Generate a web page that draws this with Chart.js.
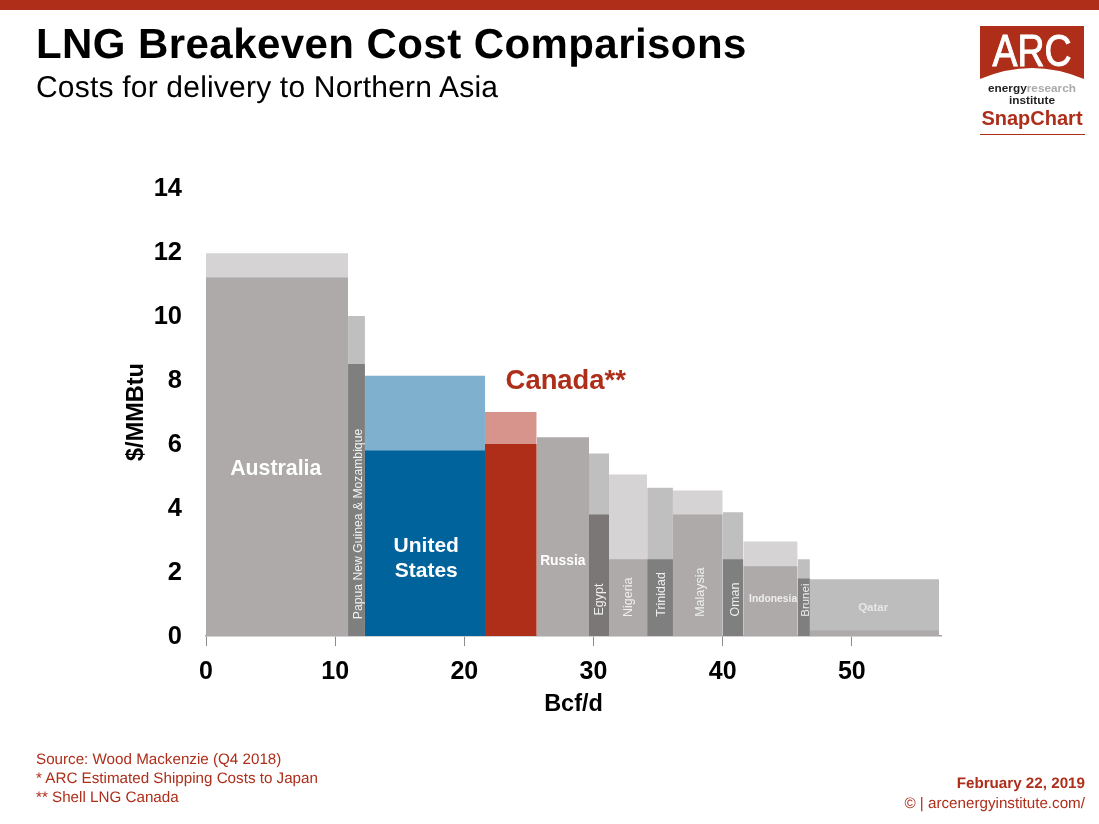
<!DOCTYPE html>
<html><head><meta charset="utf-8">
<script src="https://cdn.jsdelivr.net/npm/chart.js@4"></script>
<style>
html,body{margin:0;padding:0;background:#fff;font-family:"Liberation Sans",Arial,sans-serif}
#wrap{position:relative;width:1099px;height:824px;overflow:hidden}
#bar{position:absolute;left:0;top:0;width:1099px;height:10px;background:#ae2e1a}
canvas{position:absolute;left:0;top:0}
.t{position:absolute;white-space:nowrap;text-rendering:geometricPrecision}
#title{left:36px;top:19px;font-size:42px;letter-spacing:.43px;line-height:50px;font-weight:bold;color:#000}
#sub{left:36px;top:70px;font-size:30px;letter-spacing:.2px;line-height:36px;color:#000}
.foot{left:36px;font-size:15.2px;line-height:18px;color:#ae2e1a}
.right{right:14px;font-size:15.2px;line-height:18px;color:#ae2e1a;text-align:right}
</style></head><body>
<div id="wrap">
<canvas id="c" width="1099" height="824"></canvas>
<div id="bar"></div>
<div class="t" id="title">LNG Breakeven Cost Comparisons</div>
<div class="t" id="sub">Costs for delivery to Northern Asia</div>
<svg style="position:absolute;left:975px;top:20px" width="115" height="118" viewBox="0 0 115 118">
<path d="M5 6H109V59Q57 37 5 59Z" fill="#ae2e1a"/>
<text x="57" y="46" text-anchor="middle" font-family="Liberation Sans" font-size="44" fill="#fff" stroke="#fff" stroke-width="1" textLength="79" lengthAdjust="spacingAndGlyphs">ARC</text>
<text x="57" y="72" text-anchor="middle" font-family="Liberation Sans" font-size="11.8" font-weight="bold" fill="#222">energy<tspan fill="#aaa">research</tspan></text>
<text x="57" y="84" text-anchor="middle" font-family="Liberation Sans" font-size="11.8" font-weight="bold" fill="#222">institute</text>
<text x="57" y="105" text-anchor="middle" font-family="Liberation Sans" font-size="20" font-weight="bold" fill="#ae2e1a">SnapChart</text>
<rect x="5" y="114" width="105" height="1" fill="#ae2e1a"/>
</svg>
<div class="t foot" style="top:751px">Source: Wood Mackenzie (Q4 2018)</div>
<div class="t foot" style="top:770px">* ARC Estimated Shipping Costs to Japan</div>
<div class="t foot" style="top:789px">** Shell LNG Canada</div>
<div class="t right" style="top:775px;font-weight:bold">February 22, 2019</div>
<div class="t right" style="top:795px">© | arcenergyinstitute.com/</div>
</div>
<script>
const producers = ["Australia","Papua New Guinea & Mozambique","United States","Canada","Russia","Egypt","Nigeria","Trinidad","Malaysia","Oman","Indonesia","Brunei","Qatar"];
const capacityEdges = [0,11.0,12.3,21.6,25.6,29.65,31.2,34.15,36.15,40.0,41.6,45.8,46.75,56.75];
const totalCost = [11.96,10.0,8.13,7.0,6.2,5.7,5.05,4.63,4.55,3.87,2.95,2.4,1.77];
const baseCost = [11.2,8.5,5.8,6.0,6.2,3.8,2.4,2.4,3.8,2.4,2.18,1.8,0.17];
const topColors = ["#d5d3d3","#bfbfbf","#7fb1ce","#d6948d","#aeaaaa","#bfbfbf","#d5d3d3","#bfbfbf","#d5d3d3","#bfbfbf","#d5d3d3","#bfbfbf","#bdbdbd"];
const baseColors = ["#aeaaaa","#7f7f7f","#00639b","#ae2e1a","#aeaaaa","#7b7777","#aeaaaa","#7f7f7f","#aeaaaa","#7f7f7f","#aeaaaa","#7f7f7f","#aeaaaa"];
const xTicks = [0,10,20,30,40,50];
const yTicks = [0,2,4,6,8,10,12,14];

// [text lines, x value, y value, rotated, font, colour]
const barLabels = [
 [["Australia"],5.4,5.2,false,"bold 21.3px","#fff"],
 [["Papua New Guinea & Mozambique"],11.85,3.5,true,"12.2px","#f2f2f2"],
 [["United","States"],17.05,2.42,false,"bold 21px","#fff"],
 [["Russia"],27.62,2.35,false,"bold 13.8px","#fff"],
 [["Egypt"],30.5,1.14,true,"12.5px","#eee"],
 [["Nigeria"],32.75,1.21,true,"12.5px","#eee"],
 [["Trinidad"],35.25,1.3,true,"12.5px","#eee"],
 [["Malaysia"],38.25,1.37,true,"12.5px","#eee"],
 [["Oman"],41.0,1.14,true,"12.5px","#eee"],
 [["Indonesia"],43.9,1.14,false,"bold 10.3px","#eee"],
 [["Brunei"],46.4,1.12,true,"11.5px","#eee"],
 [["Qatar"],51.65,0.89,false,"bold 11.5px","#e6e6e6"],
 [["Canada**"],27.85,7.95,false,"bold 27.4px","#ae2e1a"]
];

const datasets = [];
producers.forEach((name,i)=>{
  const a=capacityEdges[i], b=capacityEdges[i+1];
  datasets.push({label:name+" base",data:[{x:a,y:baseCost[i]},{x:b,y:baseCost[i]}],backgroundColor:baseColors[i],fill:'origin',borderWidth:0,pointRadius:0,order:1});
  datasets.push({label:name+" total",data:[{x:a,y:totalCost[i]},{x:b,y:totalCost[i]}],backgroundColor:topColors[i],fill:'origin',borderWidth:0,pointRadius:0,order:2});
});

const labelPlugin={id:'barLabels',afterDatasetsDraw(ch){
  const {ctx,scales:{x,y}}=ch;
  ctx.save();
  ctx.textAlign='center';ctx.textBaseline='middle';
  barLabels.forEach(([lines,vx,vy,rot,font,col])=>{
    const px=x.getPixelForValue(vx),py=y.getPixelForValue(vy);
    ctx.save();ctx.translate(px,py);if(rot)ctx.rotate(-Math.PI/2);
    ctx.font=font+' "Liberation Sans"';ctx.fillStyle=col;
    const lh=25;
    lines.forEach((l,k)=>ctx.fillText(l,0,(k-(lines.length-1)/2)*lh));
    ctx.restore();
  });
  ctx.restore();
}};

new Chart(document.getElementById('c'),{
 type:'line',
 data:{datasets},
 plugins:[labelPlugin],
 options:{
  responsive:false,animation:false,
  layout:{padding:{left:122,right:158,top:188,bottom:105}},
  plugins:{legend:{display:false},tooltip:{enabled:false},title:{display:false}},
  scales:{
   x:{type:'linear',min:0,max:56.9,
      afterBuildTicks(s){s.ticks=xTicks.map(v=>({value:v}));},
      border:{color:'#a6a6a6',width:1.5},
      grid:{drawOnChartArea:false,drawTicks:true,tickLength:10,color:'#8c8c8c'},
      ticks:{color:'#000',font:{family:'Liberation Sans',size:25,weight:'bold'},padding:11,maxRotation:0,autoSkip:false},
      title:{display:true,text:'Bcf/d',color:'#000',font:{family:'Liberation Sans',size:23.5,weight:'bold'},padding:{top:4,bottom:0}},
      afterFit(s){s.height=83;}},
   y:{min:0,max:14,
      afterBuildTicks(s){s.ticks=yTicks.map(v=>({value:v}));},
      border:{display:false},
      grid:{display:false},
      ticks:{color:'#000',font:{family:'Liberation Sans',size:25.5,weight:'bold'},padding:16,labelOffset:1},
      title:{display:true,text:'$/MMBtu',color:'#000',font:{family:'Liberation Sans',size:23.5,weight:'bold'},padding:0},
      afterFit(s){s.width=84;}}
  }
 }
});
</script>
</body></html>
